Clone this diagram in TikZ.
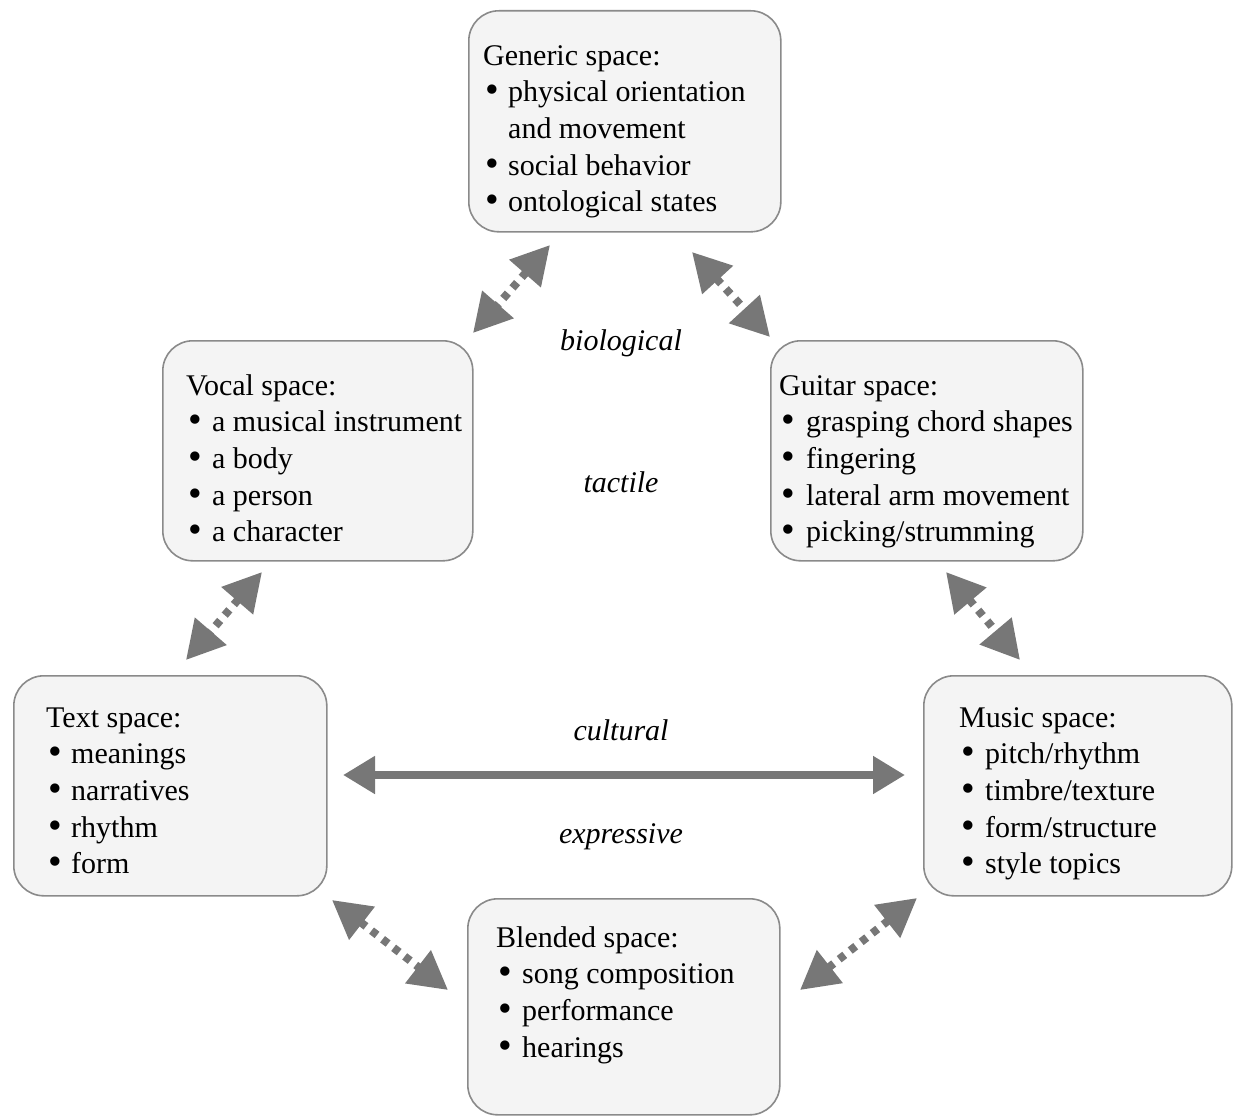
\documentclass[tikz,border=0pt]{standalone}
\usepackage{fontspec}
\setmainfont{Liberation Serif}
\usetikzlibrary{arrows.meta,calc}
\definecolor{boxfill}{HTML}{F4F4F4}
\definecolor{boxline}{HTML}{8A8A8A}
\definecolor{arrgray}{HTML}{777777}
\newcommand\bl{\hspace{2.5pt}\raisebox{-1pt}{\scalebox{1.3}{\textbullet}}}
\begin{document}
\begin{tikzpicture}[x=1pt,y=-1pt,
  spacebox/.style={draw=boxline, line width=1.6pt, fill=boxfill, rounded corners=30pt,
    minimum width=312pt, minimum height=221pt, anchor=north west, inner sep=0pt},
  content/.style={anchor=base west, inner sep=0pt, font=\fontsize{30}{36.7}\selectfont},
  lbl/.style={anchor=base, inner sep=0pt, font=\fontsize{30}{36}\selectfont\itshape},
  dotarrow/.style={draw=arrgray, line width=8pt, dash pattern=on 7pt off 7pt,
    {Triangle[length=38pt,width=40pt]}-{Triangle[length=38pt,width=40pt]}},
  solidarrow/.style={draw=arrgray, line width=8pt,
    {Triangle[length=32pt,width=36pt]}-{Triangle[length=32pt,width=36pt]}}
]
\useasboundingbox (0,0) rectangle (1233,1116);

% boxes
\node[spacebox] (gen) at (468,10) {};
\node[spacebox, minimum width=310pt, minimum height=220pt] (voc) at (162,340) {};
\node[spacebox, minimum width=312pt, minimum height=220pt] (gui) at (770,340) {};
\node[spacebox, minimum width=313pt, minimum height=220pt] (txt) at (13,675) {};
\node[spacebox, minimum width=308pt, minimum height=220pt] (mus) at (923,675) {};
\node[spacebox, minimum width=312pt, minimum height=216pt] (bld) at (467,898) {};

% contents
\node[content] (genT) at ($(gen.north west)+(15,55)$) {\begin{tabular}[t]{@{}p{25pt}@{}l@{}}
\multicolumn{2}{@{}l@{}}{Generic space:}\\
\bl & physical orientation\\
 & and movement\\
\bl & social behavior\\
\bl & ontological states
\end{tabular}};

\node[content] (vocT) at ($(voc.north west)+(24,55)$) {\begin{tabular}[t]{@{}p{26pt}@{}l@{}}
\multicolumn{2}{@{}l@{}}{Vocal space:}\\
\bl & a musical instrument\\
\bl & a body\\
\bl & a person\\
\bl & a character
\end{tabular}};

\node[content] (guiT) at ($(gui.north west)+(9,55)$) {\begin{tabular}[t]{@{}p{27pt}@{}l@{}}
\multicolumn{2}{@{}l@{}}{Guitar space:}\\
\bl & grasping chord shapes\\
\bl & fingering\\
\bl & lateral arm movement\\
\bl & picking/strumming
\end{tabular}};

\node[content] (txtT) at ($(txt.north west)+(33,52)$) {\begin{tabular}[t]{@{}p{25pt}@{}l@{}}
\multicolumn{2}{@{}l@{}}{Text space:}\\
\bl & meanings\\
\bl & narratives\\
\bl & rhythm\\
\bl & form
\end{tabular}};

\node[content] (musT) at ($(mus.north west)+(36,52)$) {\begin{tabular}[t]{@{}p{26pt}@{}l@{}}
\multicolumn{2}{@{}l@{}}{Music space:}\\
\bl & pitch/rhythm\\
\bl & timbre/texture\\
\bl & form/structure\\
\bl & style topics
\end{tabular}};

\node[content] (bldT) at ($(bld.north west)+(29,49)$) {\begin{tabular}[t]{@{}p{26pt}@{}l@{}}
\multicolumn{2}{@{}l@{}}{Blended space:}\\
\bl & song composition\\
\bl & performance\\
\bl & hearings
\end{tabular}};

% italic labels
\node[lbl] (lbio) at (621,350) {biological};
\node[lbl] (ltac) at (621,492) {tactile};
\node[lbl] (lcul) at (621,740) {cultural};
\node[lbl] (lexp) at (621,843) {expressive};

% connector end points
\coordinate (gv1) at (550,245);
\coordinate (gv2) at (473,333);
\coordinate (gg1) at (692,252);
\coordinate (gg2) at (770,337);
\coordinate (vt1) at (262,572);
\coordinate (vt2) at (186,660);
\coordinate (gm1) at (946,572);
\coordinate (gm2) at (1020,660);
\coordinate (tb1) at (332,900);
\coordinate (tb2) at (448,990);
\coordinate (mb1) at (917,898);
\coordinate (mb2) at (800,990);
\coordinate (tm1) at (343,775);
\coordinate (tm2) at (905,775);

\draw[dotarrow] (gv1) -- (gv2);
\draw[dotarrow] (gg1) -- (gg2);
\draw[dotarrow] (vt1) -- (vt2);
\draw[dotarrow] (gm1) -- (gm2);
\draw[dotarrow] (tb1) -- (tb2);
\draw[dotarrow] (mb1) -- (mb2);
\draw[solidarrow] (tm1) -- (tm2);
\end{tikzpicture}
\end{document}
